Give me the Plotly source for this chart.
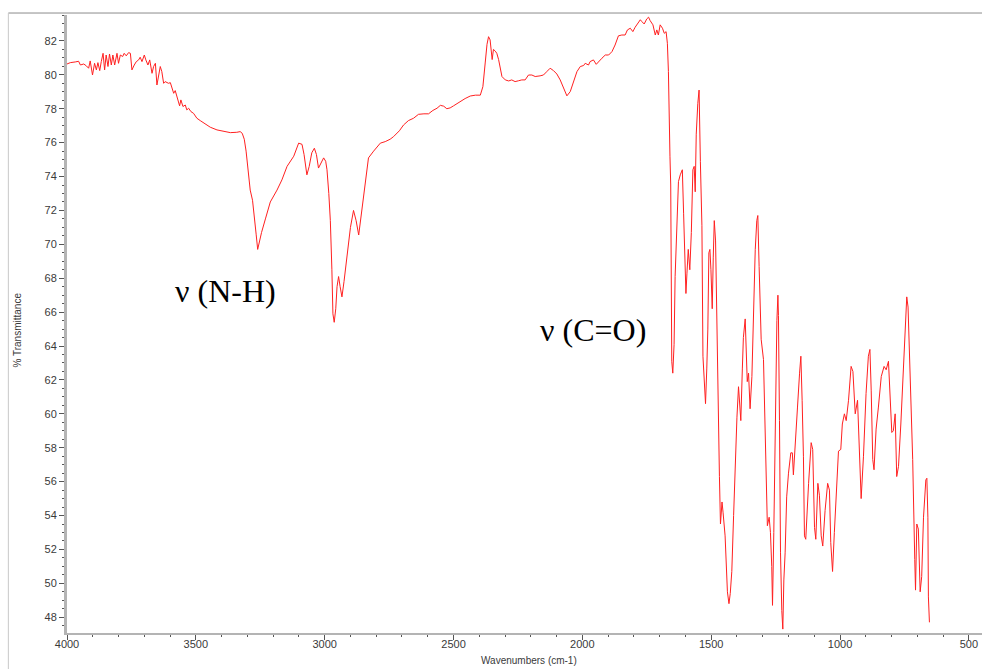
import plotly.graph_objects as go

# Wavenumbers (cm-1) and % Transmittance
wavenumbers = [
    4000, 3987, 3968, 3955, 3948, 3935, 3925, 3916, 3910, 3901, 3893, 3886, 3880, 3873, 3867, 3860,
    3854, 3848, 3841, 3835, 3828, 3822, 3815, 3806, 3800, 3793, 3784, 3778, 3770, 3761, 3754, 3748,
    3739, 3731, 3722, 3716, 3709, 3700, 3694, 3686, 3679, 3670, 3664, 3657, 3651, 3645, 3638, 3632,
    3625, 3619, 3606, 3599, 3593, 3586, 3580, 3573, 3567, 3563, 3558, 3550, 3541, 3535, 3528, 3519,
    3509, 3496, 3483, 3463, 3444, 3418, 3392, 3366, 3341, 3328, 3320, 3312, 3305, 3297, 3289, 3280,
    3272, 3266, 3260, 3254, 3245, 3230, 3211, 3185, 3166, 3146, 3120, 3101, 3088, 3080, 3069, 3060,
    3050, 3040, 3032, 3024, 3015, 3004, 2996, 2991, 2984, 2978, 2972, 2968, 2963, 2957, 2952, 2946,
    2940, 2933, 2925, 2913, 2900, 2888, 2878, 2868, 2858, 2849, 2840, 2830, 2810, 2795, 2784, 2765,
    2746, 2733, 2710, 2694, 2675, 2655, 2636, 2615, 2597, 2580, 2564, 2551, 2538, 2526, 2513, 2500,
    2487, 2474, 2455, 2435, 2415, 2396, 2386, 2377, 2370, 2364, 2358, 2350, 2345, 2338, 2332, 2325,
    2319, 2312, 2299, 2286, 2274, 2261, 2248, 2235, 2222, 2209, 2196, 2183, 2164, 2151, 2138, 2125,
    2112, 2099, 2086, 2073, 2060, 2047, 2034, 2021, 2008, 1995, 1989, 1976, 1970, 1957, 1946, 1937,
    1924, 1911, 1898, 1885, 1873, 1860, 1847, 1834, 1825, 1814, 1804, 1795, 1782, 1775, 1769, 1760,
    1750, 1743, 1737, 1726, 1717, 1711, 1705, 1698, 1689, 1682, 1675, 1670, 1666, 1663, 1660, 1657,
    1653, 1649, 1644, 1640, 1633, 1627, 1620, 1612, 1607, 1602, 1598, 1594, 1589, 1583, 1577, 1571,
    1566, 1562, 1558, 1552, 1547, 1542, 1536, 1532, 1527, 1522, 1517, 1513, 1509, 1505, 1501, 1496,
    1492, 1488, 1483, 1478, 1473, 1468, 1464, 1458, 1454, 1446, 1437, 1431, 1426, 1420, 1413, 1407,
    1400, 1394, 1390, 1385, 1379, 1375, 1368, 1364, 1360, 1355, 1349, 1342, 1336, 1329, 1323, 1319,
    1314, 1306, 1297, 1291, 1287, 1282, 1275, 1270, 1265, 1262, 1257, 1252, 1245, 1241, 1239, 1235,
    1231, 1226, 1222, 1218, 1213, 1207, 1200, 1191, 1185, 1181, 1174, 1165, 1157, 1152, 1147, 1142,
    1138, 1133, 1122, 1112, 1106, 1099, 1094, 1086, 1080, 1073, 1067, 1058, 1048, 1041, 1036, 1029,
    1022, 1012, 1006, 997, 991, 983, 976, 967, 957, 950, 941, 932, 926, 918, 909, 899,
    890, 884, 879, 873, 868, 860, 851, 840, 829, 821, 812, 806, 799, 793, 786, 780,
    773, 764, 756, 747, 741, 736, 728, 718, 710, 707, 702, 696, 689, 683, 676, 667,
    663, 659, 657, 653,
]

transmittance = [
    80.64, 80.72, 80.76, 80.80, 80.58, 80.64, 80.53, 80.39, 80.82, 79.99, 80.68, 80.29, 80.72, 80.25, 80.78, 81.27,
    80.29, 81.17, 80.49, 81.23, 80.58, 81.17, 80.58, 81.27, 80.68, 81.17, 81.08, 81.27, 81.12, 81.31, 81.27, 80.29,
    80.58, 80.78, 80.88, 81.04, 80.78, 81.17, 80.88, 80.58, 80.88, 80.09, 80.49, 80.68, 79.40, 79.90, 80.49, 80.19,
    79.50, 79.60, 79.50, 79.54, 79.21, 78.91, 79.07, 78.62, 78.42, 78.17, 78.52, 78.13, 78.22, 77.93, 78.03, 77.83,
    77.73, 77.44, 77.30, 77.10, 76.91, 76.75, 76.65, 76.59, 76.61, 76.65, 76.55, 76.2, 75.5, 74.3, 73.2, 72.6,
    71.6, 70.6, 69.7, 70.1, 70.7, 71.5, 72.5, 73.2, 73.8, 74.6, 75.2, 75.97, 75.9, 75.3, 74.1, 74.6,
    75.4, 75.67, 75.3, 74.5, 74.8, 75.1, 74.9, 74.4, 73.0, 71.4, 68.5, 65.9, 65.4, 66.2, 67.5, 68.1,
    67.5, 66.9, 67.8, 69.5, 71.0, 72.0, 71.4, 70.55, 71.8, 73.0, 74.2, 75.1, 75.5, 75.8, 75.97, 76.06,
    76.2, 76.35, 76.7, 77.04, 77.3, 77.44, 77.67, 77.7, 77.7, 77.9, 78.03, 78.2, 78.15, 78.0, 78.05, 78.17,
    78.3, 78.4, 78.6, 78.75, 78.8, 78.8, 79.3, 80.7, 81.8, 82.25, 82.06, 80.9, 81.5, 81.4, 81.27, 80.9,
    80.5, 79.9, 79.7, 79.64, 79.70, 79.60, 79.65, 79.70, 79.70, 79.99, 79.99, 79.90, 79.94, 79.99, 80.19, 80.39,
    80.25, 80.05, 79.70, 79.21, 78.76, 79.01, 79.60, 80.19, 80.49, 80.55, 80.68, 80.58, 80.78, 80.88, 80.62, 80.78,
    80.98, 81.17, 81.17, 81.37, 81.76, 82.30, 82.35, 82.35, 82.65, 82.75, 82.55, 82.81, 83.08, 83.25, 83.14, 83.0,
    83.3, 83.4, 83.2, 82.95, 82.35, 82.65, 82.35, 82.95, 82.75, 82.45, 82.55, 81.86, 80.2, 76.5, 75.2, 73.5,
    63.1, 62.4, 64.1, 68.1, 71.6, 73.7, 74.1, 74.4, 71.8, 69.3, 67.1, 68.3, 69.7, 68.5, 70.7, 74.4,
    74.6, 73.1, 76.5, 78.3, 79.1, 74.9, 71.1, 63.4, 61.5, 60.6, 62.7, 65.0, 69.5, 69.7, 68.5, 66.2,
    69.2, 71.4, 70.2, 64.5, 59.8, 56.3, 53.5, 54.8, 54.2, 52.8, 49.5, 48.8, 49.4, 50.7, 54.0, 57.3,
    59.8, 61.6, 60.6, 59.6, 62.7, 64.5, 65.6, 63.2, 61.9, 62.4, 60.3, 62.2, 66.3, 69.7, 71.4, 71.7,
    68.7, 64.4, 63.2, 58.9, 55.7, 53.4, 53.9, 53.0, 51.0, 48.7, 53.0, 59.6, 65.5, 67.0, 65.8, 59.6,
    51.8, 48.4, 47.3, 50.2, 51.8, 55.1, 56.5, 57.7, 57.7, 56.4, 58.4, 60.4, 62.4, 63.4, 60.8, 57.5,
    52.8, 52.6, 55.9, 58.3, 57.9, 53.3, 52.6, 55.9, 55.2, 52.8, 52.2, 54.3, 55.9, 55.5, 52.4, 50.7,
    53.0, 56.3, 57.8, 57.9, 59.4, 60.0, 59.6, 60.8, 62.8, 62.5, 60.0, 60.8, 57.9, 55.0, 57.5, 61.2,
    63.4, 63.8, 61.4, 57.3, 56.7, 59.1, 60.4, 62.2, 62.8, 62.6, 63.1, 61.4, 58.9, 59.0, 60.0, 56.3,
    56.9, 59.4, 62.0, 65.2, 66.9, 66.3, 62.2, 57.3, 51.4, 49.6, 53.5, 53.2, 49.5, 50.4, 53.9, 56.1,
    56.2, 53.9, 49.2, 47.7,
]

x_ticks = [4000, 3500, 3000, 2500, 2000, 1500, 1000, 500]
y_ticks = list(range(48, 84, 2))
x_title = "Wavenumbers (cm-1)"
y_title = "% Transmittance"
band_labels = ["ν (N-H)", "ν (C=O)"]
band_positions = [(3386, 67.25), (1958, 64.95)]

fig = go.Figure()
fig.add_trace(go.Scatter(
    x=wavenumbers, y=transmittance, mode="lines",
    line=dict(color="#ff2020", width=1), showlegend=False, hoverinfo="skip",
))

tick_font = dict(family="Liberation Sans, Arial, sans-serif", size=11, color="#3a3a3a")

fig.update_xaxes(
    range=[4000, 449], tickvals=x_ticks, ticktext=[str(t) for t in x_ticks],
    showgrid=False, zeroline=False, showline=True, linecolor="#b4b4b4", linewidth=2,
    ticks="outside", ticklen=5, tickwidth=1, tickcolor="#555555", tickfont=tick_font,
    ticklabelstandoff=-5,
    minor=dict(dtick=100, tick0=0, ticks="outside", ticklen=2, tickcolor="#555555", showgrid=False),
)
fig.update_yaxes(
    range=[47.07, 83.53], tickvals=y_ticks,
    showgrid=False, zeroline=False, showline=True, linecolor="#b4b4b4", linewidth=3,
    ticks="outside", ticklen=5, tickwidth=1, tickcolor="#555555", tickfont=tick_font,
    minor=dict(dtick=0.5, tick0=0, ticks="outside", ticklen=2, tickcolor="#555555", showgrid=False),
)

annotations = []
for txt, (wx, ty) in zip(band_labels, band_positions):
    annotations.append(dict(
        x=wx, y=ty, xref="x", yref="y", text=txt, showarrow=False,
        xanchor="center", yanchor="middle",
        font=dict(family="Liberation Serif, Times New Roman, serif", size=32, color="#000000"),
    ))
annotations.append(dict(
    x=0.505, y=-0.0453, xref="paper", yref="paper", text=x_title, showarrow=False,
    xanchor="center", yanchor="middle",
    font=dict(family="Liberation Sans, Arial, sans-serif", size=10, color="#3a3a3a"),
))
annotations.append(dict(
    x=-0.0543, y=0.49, xref="paper", yref="paper", text=y_title, showarrow=False, textangle=-90,
    xanchor="center", yanchor="middle",
    font=dict(family="Liberation Sans, Arial, sans-serif", size=10, color="#3a3a3a"),
))

shapes = [
    dict(type="line", xref="paper", yref="paper", x0=-0.0641, x1=1.0, y0=1.0032, y1=1.0032,
         line=dict(color="#8c8c8c", width=1)),
    dict(type="line", xref="paper", yref="paper", x0=-0.0641, x1=-0.0641, y0=1.0032, y1=-0.06,
         line=dict(color="#c8c8c8", width=1)),
]

fig.update_layout(
    width=982, height=669,
    margin=dict(l=66.7, r=0, t=15, b=36),
    paper_bgcolor="white", plot_bgcolor="white",
    annotations=annotations, shapes=shapes,
)

fig.write_html("out.html")
